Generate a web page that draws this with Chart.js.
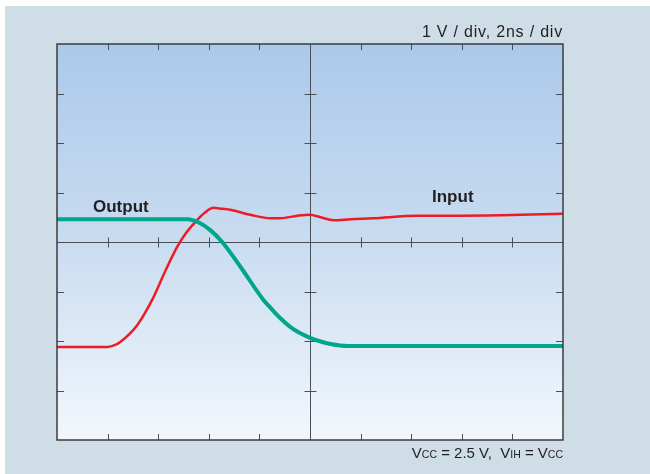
<!DOCTYPE html>
<html>
<head>
<meta charset="utf-8">
<title>Switching waveform</title>
<script src="https://cdn.jsdelivr.net/npm/chart.js@4.4.1/dist/chart.umd.min.js"></script>
<style>
  html, body { margin: 0; padding: 0; background: #ffffff; }
  canvas { display: block; }
</style>
</head>
<body>
<canvas id="scope" width="650" height="474"></canvas>
<script>
// divisions: 2 ns per x division, 1 V per y division (centre line = 0)
const xDivs = [0, 2, 4, 6, 8, 10, 12, 14, 16, 18, 20];
const yDivs = [-4, -3, -2, -1, 0, 1, 2, 3, 4];

// input waveform (ns, V)
const inputTime = [0, 1.0, 2.0, 2.3, 2.5, 3.17, 3.76, 4.25, 4.75, 5.1, 5.39, 5.86, 6.18, 6.53, 6.85, 7.64, 8.44, 8.83, 9.5, 9.98, 10.42, 10.93, 11.6, 12.5, 14.26, 15.56, 17.54, 20];
const inputVolts = [-2.12, -2.12, -2.12, -2.08, -2.02, -1.68, -1.17, -0.62, -0.1, 0.18, 0.36, 0.6, 0.69, 0.67, 0.65, 0.55, 0.48, 0.48, 0.53, 0.55, 0.5, 0.44, 0.46, 0.48, 0.53, 0.53, 0.54, 0.57];

// output waveform (ns, V)
const outputTime = [0, 1.7, 3.68, 5.15, 5.66, 6.06, 6.53, 7.25, 8.16, 8.44, 8.83, 9.23, 9.6, 9.98, 10.42, 10.81, 11.49, 13.58, 20];
const outputVolts = [0.46, 0.46, 0.46, 0.46, 0.38, 0.24, 0, -0.5, -1.17, -1.33, -1.54, -1.72, -1.84, -1.93, -2.01, -2.06, -2.1, -2.1, -2.1];

function toPoints(xs, ys) {
	return xs.map((x, i) => ({ x: x, y: ys[i] }));
}

// background, graticule and frame of the scope screen
const scopeScreen = {
	id: 'scopeScreen',
	beforeDraw(chart) {
		const ctx = chart.ctx;
		const a = chart.chartArea;
		ctx.save();
		ctx.fillStyle = '#ffffff';
		ctx.fillRect(0, 0, chart.width, chart.height);
		ctx.fillStyle = '#cedde6';
		ctx.fillRect(5, 6, chart.width - 5, chart.height - 6);
		let grad = ctx.createLinearGradient(0, a.top, 0, a.bottom);
		grad.addColorStop(0, '#abc9ea');
		grad.addColorStop(0.5, '#c9dcf0');
		grad.addColorStop(1, '#f3f7fc');
		ctx.fillStyle = grad;
		ctx.fillRect(a.left, a.top, a.right - a.left, a.bottom - a.top);
		ctx.restore();
	},
	beforeDatasetsDraw(chart) {
		const ctx = chart.ctx;
		const a = chart.chartArea;
		const xs = chart.scales.x;
		const ys = chart.scales.y;
		const cx = Math.round(xs.getPixelForValue(10)) + 0.5;
		const cy = Math.round(ys.getPixelForValue(0)) + 0.5;
		ctx.save();
		ctx.strokeStyle = '#4a4f55';
		ctx.lineWidth = 1;
		ctx.beginPath();
		ctx.moveTo(cx, a.top); ctx.lineTo(cx, a.bottom);
		ctx.moveTo(a.left, cy); ctx.lineTo(a.right, cy);
		xDivs.forEach(v => {
			if (v === xDivs[0] || v === xDivs[xDivs.length - 1]) return;
			const px = Math.round(xs.getPixelForValue(v)) + 0.5;
			ctx.moveTo(px, a.top); ctx.lineTo(px, a.top + 6);
			ctx.moveTo(px, a.bottom); ctx.lineTo(px, a.bottom - 6);
			ctx.moveTo(px, cy - 5); ctx.lineTo(px, cy + 5);
		});
		yDivs.forEach(v => {
			if (v === yDivs[0] || v === yDivs[yDivs.length - 1]) return;
			const py = Math.round(ys.getPixelForValue(v)) + 0.5;
			ctx.moveTo(a.left, py); ctx.lineTo(a.left + 7, py);
			ctx.moveTo(a.right, py); ctx.lineTo(a.right - 7, py);
			ctx.moveTo(cx - 6, py); ctx.lineTo(cx + 6, py);
		});
		ctx.stroke();
		ctx.restore();
	},
	afterDraw(chart) {
		const ctx = chart.ctx;
		const a = chart.chartArea;
		ctx.save();
		ctx.strokeStyle = '#3a3d41';
		ctx.lineWidth = 1.5;
		ctx.strokeRect(a.left, a.top, a.right - a.left, a.bottom - a.top);

		ctx.fillStyle = '#231f20';
		ctx.textBaseline = 'alphabetic';
		ctx.font = '16px "Liberation Sans", Arial, sans-serif';
		ctx.letterSpacing = '0.8px';
		ctx.textAlign = 'right';
		ctx.fillText('1 V / div, 2ns / div', a.right, a.top - 7);
		ctx.letterSpacing = '0px';

		ctx.font = 'bold 17px "Liberation Sans", Arial, sans-serif';
		ctx.textAlign = 'left';
		ctx.fillText('Output', 93, 212);
		ctx.fillText('Input', 432, 202);

		// supply note with small-cap subscripts
		const runs = [
			['V', 15], ['CC', 10.5], [' = 2.5 V,  V', 15], ['IH', 10.5], [' = V', 15], ['CC', 10.5]
		];
		let total = 0;
		runs.forEach(r => {
			ctx.font = r[1] + 'px "Liberation Sans", Arial, sans-serif';
			total += ctx.measureText(r[0]).width;
		});
		let x = a.right - total;
		runs.forEach(r => {
			ctx.font = r[1] + 'px "Liberation Sans", Arial, sans-serif';
			ctx.fillText(r[0], x, a.bottom + 18);
			x += ctx.measureText(r[0]).width;
		});
		ctx.restore();
	}
};

document.addEventListener('DOMContentLoaded', () => {
	let context = document.getElementById('scope').getContext('2d');
	let config = {
		type: 'line',
		data: {
			datasets: [{
				label: 'Output',
				data: toPoints(outputTime, outputVolts),
				borderColor: '#00a68c',
				borderWidth: 4,
				pointStyle: false,
				cubicInterpolationMode: 'monotone',
				fill: false
			}, {
				label: 'Input',
				data: toPoints(inputTime, inputVolts),
				borderColor: '#ec1c24',
				borderWidth: 2.5,
				pointStyle: false,
				cubicInterpolationMode: 'monotone',
				fill: false
			}]
		},
		options: {
			responsive: false,
			animation: false,
			events: [],
			layout: {
				padding: { left: 57, right: 87, top: 44, bottom: 34 }
			},
			plugins: {
				legend: { display: false },
				tooltip: { enabled: false }
			},
			scales: {
				x: { type: 'linear', min: 0, max: 20, display: false },
				y: { type: 'linear', min: -4, max: 4, display: false }
			}
		},
		plugins: [scopeScreen]
	};
	new Chart(context, config);
});
</script>
</body>
</html>
